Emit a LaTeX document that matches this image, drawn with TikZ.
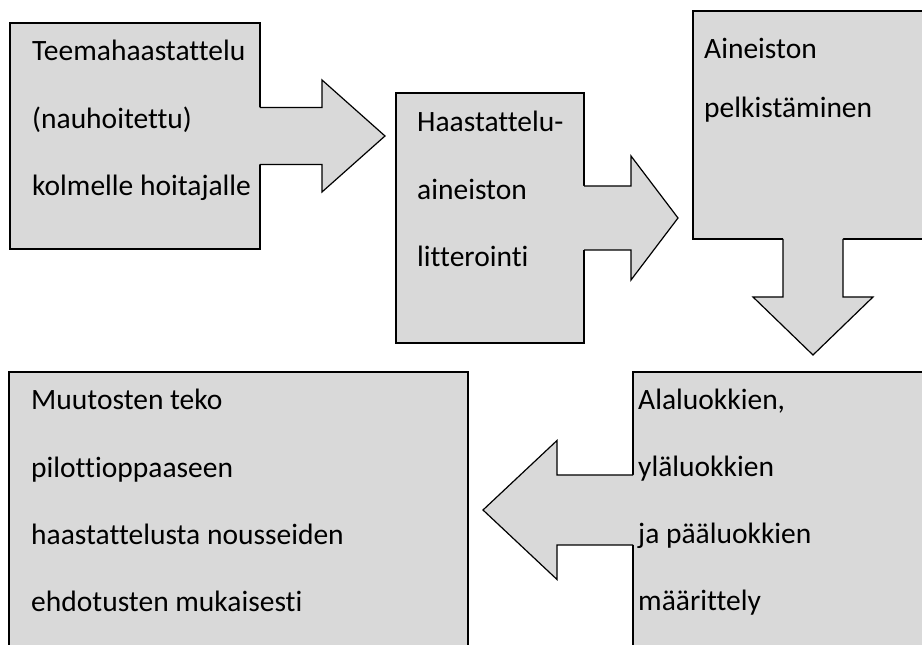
\documentclass[tikz,border=0pt]{standalone}
\usepackage{fontspec}
\setmainfont{Carlito}[Ligatures=NoCommon]
\usetikzlibrary{calc}
\colorlet{box area}{black!15}
\colorlet{box edge}{black}
\tikzset{stepbox/.style={draw=box edge, fill=box area, line width=1.2pt,
		rectangle, inner sep=0pt, outer sep=0pt},
	steptext/.style={anchor=base west, inner sep=0pt,
		font=\fontsize{29.5}{35}\selectfont},
	arrowfill/.style={fill=box area},
	arrowline/.style={draw=box edge, line width=1.2pt, line join=miter}}
% #1 start, #2 angle, #3 shaft half width, #4 head half width, #5 neck, #6 tip
\newcommand{\flowarrow}[6]{%
	\begin{scope}[shift={(#1)}, rotate=#2]
		\fill[arrowfill] (-2,-#3) -- (#5,-#3) -- (#5,-#4) -- (#6,0)
		-- (#5,#4) -- (#5,#3) -- (-2,#3) -- cycle;
		\draw[arrowline] (0,-#3) -- (#5,-#3) -- (#5,-#4) -- (#6,0)
		-- (#5,#4) -- (#5,#3) -- (0,#3);
	\end{scope}}

\begin{document}
\begin{tikzpicture}[x=1pt, y=1pt]
		\useasboundingbox (0,0) rectangle (922,645);
		\clip (0,0) rectangle (922,645);
		
		\node[stepbox, minimum width=250, minimum height=226] (b1) at (135,509) {};
		\node[stepbox, minimum width=188, minimum height=250] (b2) at (490,427) {};
		\node[stepbox, minimum width=240, minimum height=228] (b3) at (813,520) {};
		\node[stepbox, minimum width=360, minimum height=276] (b4) at (813,135) {};
		\node[stepbox, minimum width=459, minimum height=276] (b5) at (238.5,135) {};
		
		\flowarrow{b1.east}{0}{28.5}{56}{62}{125}
		\flowarrow{b2.east}{0}{32}{62}{47}{94}
		\flowarrow{b3.south}{-90}{30}{60}{58}{116}
		\flowarrow{b4.west}{180}{35}{69.5}{76}{150}
		
		\foreach \txt [count=\i] in {Teemahaastattelu, {(nauhoitettu)}, kolmelle hoitajalle}
		\node[steptext] (t1-\i) at ([xshift=22, yshift={-38-(\i-1)*67.5}]b1.north west) {\txt};
		\foreach \txt [count=\i] in {Haastattelu-, aineiston, litterointi}
		\node[steptext] (t2-\i) at ([xshift=21, yshift={-39-(\i-1)*67.5}]b2.north west) {\txt};
		\foreach \txt [count=\i] in {Aineiston, pelkistäminen}
		\node[steptext] (t3-\i) at ([xshift=11, yshift={-48-(\i-1)*59}]b3.north west) {\txt};
		\foreach \txt [count=\i] in {{Alaluokkien,}, yläluokkien, ja pääluokkien, määrittely}
		\node[steptext] (t4-\i) at ([xshift=5, yshift={-38-(\i-1)*67}]b4.north west) {\txt};
		\foreach \txt [count=\i] in {Muutosten teko, pilottioppaaseen, haastattelusta nousseiden, ehdotusten mukaisesti}
		\node[steptext] (t5-\i) at ([xshift=22, yshift={-38-(\i-1)*67.3}]b5.north west) {\txt};
	\end{tikzpicture}
\end{document}
